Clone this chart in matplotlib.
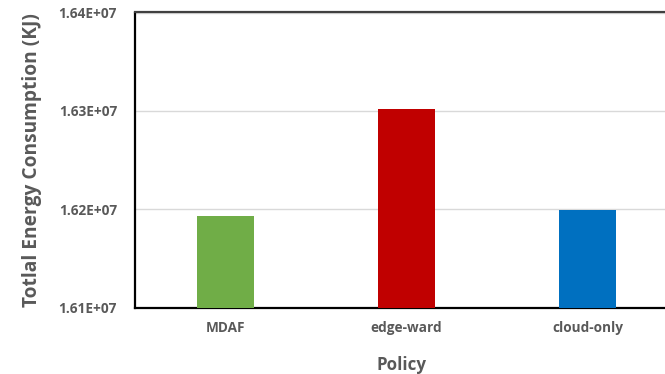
import matplotlib
matplotlib.use("Agg")
import matplotlib.pyplot as plt
from matplotlib.ticker import FuncFormatter

policies = ["MDAF", "edge-ward", "cloud-only"]
energy_kj = [1.61929e7, 1.63020e7, 1.61990e7]
bar_colors = ["#70AD47", "#C00000", "#0070C0"]
y_ticks = [1.61e7, 1.62e7, 1.63e7, 1.64e7]

plt.rcParams["font.family"] = ["Open Sans", "DejaVu Sans"]
text_gray = "#595959"

fig = plt.figure(figsize=(6.65, 3.74), dpi=100)
ax = fig.add_axes([135 / 665, 1 - 307.5 / 374, (668 - 135) / 665, (307.5 - 12.5) / 374])

x = range(len(policies))
ax.bar(x, energy_kj, width=0.315, color=bar_colors, zorder=3)

ax.set_ylim(1.61e7, 1.64e7)
ax.set_xlim(-0.5, 2.445)
ax.set_yticks(y_ticks)
ax.yaxis.set_major_formatter(FuncFormatter(lambda v, p: f"{v:.2E}"))
ax.set_xticks(list(x))
ax.set_xticklabels(policies)

ax.grid(axis="y", color="#D9D9D9", linewidth=1.0, zorder=0)
ax.tick_params(axis="both", length=0, labelsize=9.8, labelcolor=text_gray)
ax.tick_params(axis="y", pad=13)
ax.tick_params(axis="x", pad=10)
for lbl in ax.get_xticklabels() + ax.get_yticklabels():
    lbl.set_fontweight("bold")

ax.spines["right"].set_visible(False)
for side in ("left", "bottom"):
    ax.spines[side].set_color("black")
    ax.spines[side].set_linewidth(1.6)
ax.spines["top"].set_color("#404040")
ax.spines["top"].set_linewidth(1.6)

ax.set_ylabel("Totlal Energy Consumption (KJ)", fontsize=13.8, fontweight="bold",
              color=text_gray, labelpad=12)
ax.set_xlabel("Policy", fontsize=12.2, fontweight="bold", color=text_gray, labelpad=15)

fig.savefig("out.png", dpi=100)
